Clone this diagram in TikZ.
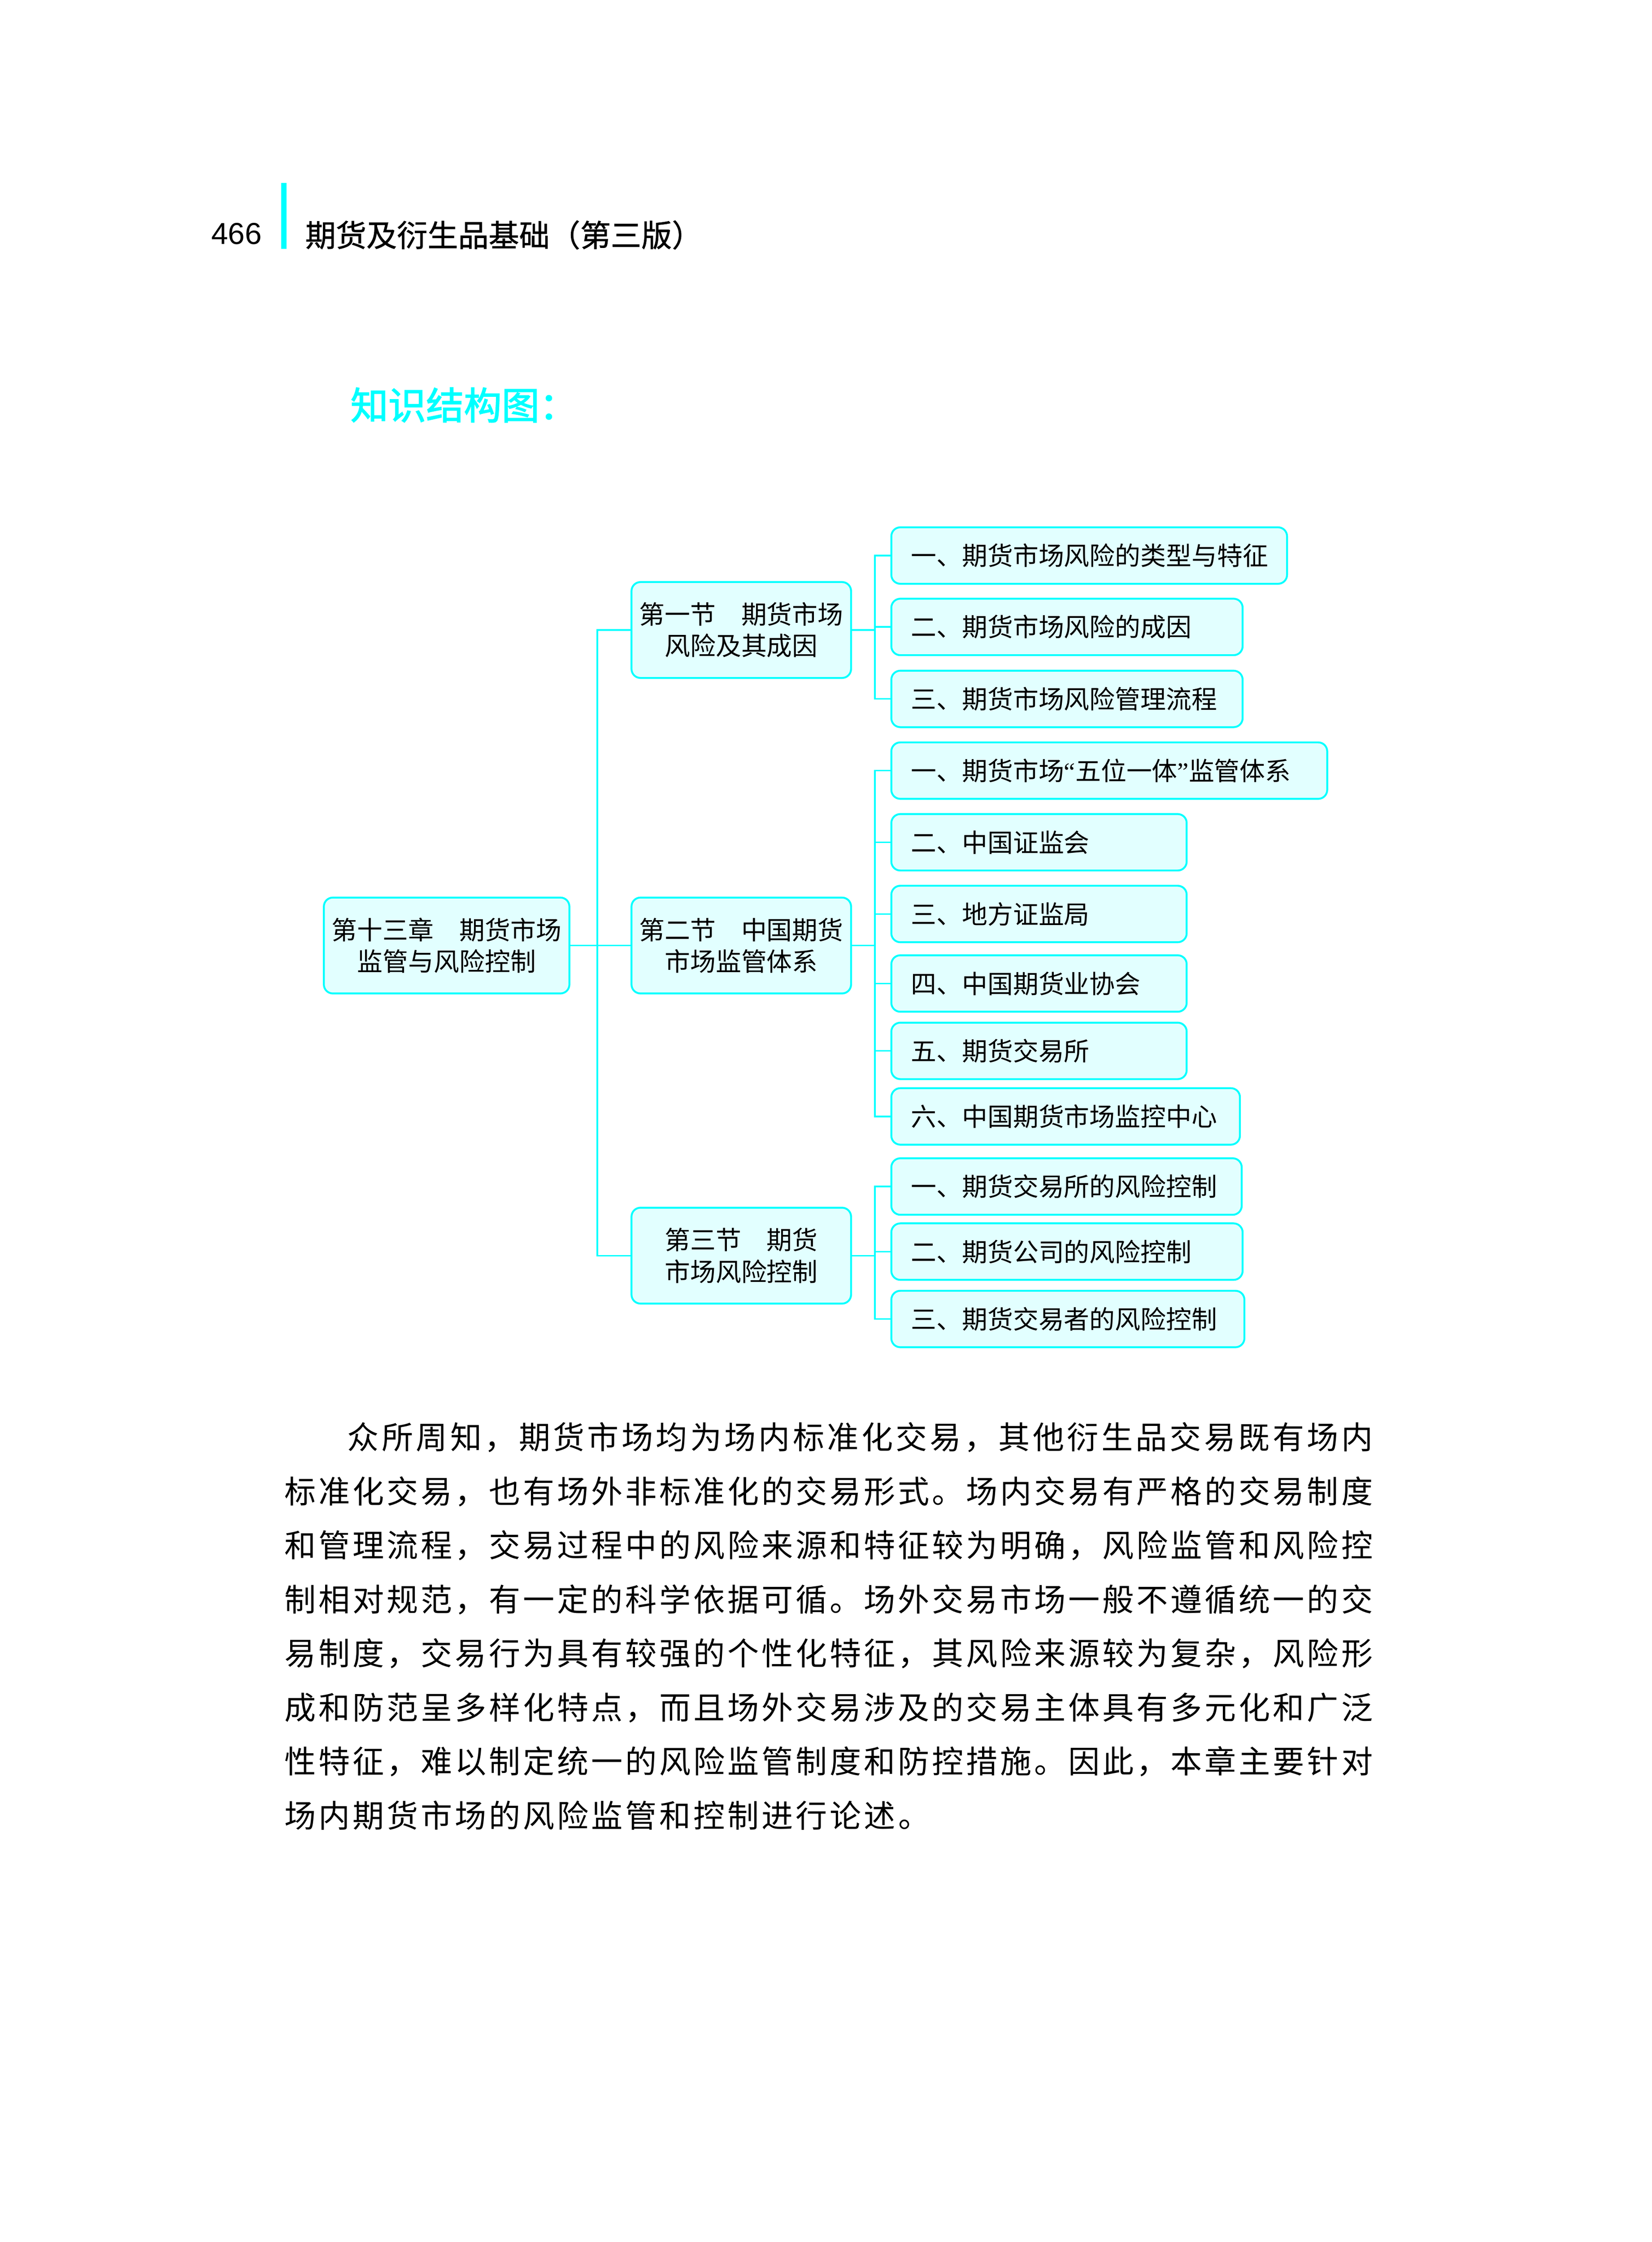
\documentclass[tikz,border=0pt]{standalone}
\usepackage{fontspec}
\newfontfamily\cjk{Noto Sans CJK SC}
\newfontfamily\cjkhead[FakeBold=1]{Noto Sans CJK SC}
\newfontfamily\cjkbold[FakeBold=2]{Noto Sans CJK SC}
\newfontfamily\arialfont{Liberation Sans}
\newfontfamily\quotefont{Liberation Serif}
\usetikzlibrary{positioning}
\definecolor{lineblue}{RGB}{0,255,255}
\definecolor{boxfill}{RGB}{226,255,255}
% stretchable glue between Chinese characters, used only in the body text
\newXeTeXintercharclass\hanclass
\newcount\hancode
\hancode="3000
\loop \XeTeXcharclass\hancode=\hanclass \advance\hancode 1 \ifnum\hancode<"A000 \repeat
\hancode="FF00
\loop \XeTeXcharclass\hancode=\hanclass \advance\hancode 1 \ifnum\hancode<"FFF0 \repeat
\XeTeXinterchartoks\hanclass\hanclass={\hskip0pt plus 3pt\relax}
\newcommand\cjkspread{\XeTeXinterchartokenstate=1\XeTeXlinebreaklocale "zh"\XeTeXlinebreakskip=0pt plus 2pt\relax}
\newcommand\bodyrow[2][121.44mm]{{\cjkspread\makebox[#1][s]{#2}}}
\tikzset{
  box/.style={draw=lineblue, fill=boxfill, line width=0.6pt, rounded corners=1mm,
    font=\cjk\fontsize{8.1}{10}\selectfont},
  topic/.style={box, align=center, minimum width=24.5mm, minimum height=10.7mm, inner sep=0pt},
  leaf/.style={box, anchor=west, align=left, text width=#1, inner xsep=2.2mm, minimum height=6.3mm},
  link/.style={draw=lineblue, line width=0.5pt},
  bodyline/.style={anchor=base west, inner sep=0pt, font=\cjk\fontsize{10}{17}\selectfont},
}

\begin{document}
\begin{tikzpicture}[x=0.16mm, y=-0.16mm]
\useasboundingbox (0,0) rectangle (1152,1563.8);
% page head
\node [anchor=base west, inner sep=0pt, font=\arialfont\fontsize{9.6}{11}\selectfont] (pagenum) at (147,170.4) {466};
\fill [lineblue] (196,127.7) rectangle (199.7,173.5);
\node [anchor=base west, inner sep=0pt, font=\cjkhead\fontsize{9.7}{11}\selectfont] (booktitle) at (212.5,172) {期货及衍生品基础（第三版）};
\node [anchor=base west, inner sep=0pt, text=lineblue, font=\cjkbold\fontsize{12}{14}\selectfont] (maptitle) at (244,292.5) {知识结构图：};
% chapter and sections
\node [topic, minimum width=27.4mm] (main) at (311.5,659.5) {第十三章　期货市场\\监管与风险控制};
\node [topic, right=6.72mm of main] (sec2) {第二节　中国期货\\市场监管体系};
\node [topic, above=24.3mm of sec2] (sec1) {第一节　期货市场\\风险及其成因};
\node [topic, below=23.7mm of sec2] (sec3) {第三节　期货\\市场风险控制};
% items
\node [leaf=39.76mm] (l1) at (621,387.5) {一、期货市场风险的类型与特征};
\node [leaf=34.8mm] (l2) at (621,437.3) {二、期货市场风险的成因};
\node [leaf=34.8mm] (l3) at (621,487.5) {三、期货市场风险管理流程};
\node [leaf=44.24mm] (l4) at (621,537.5) {一、期货市场{\quotefont“}五位一体{\quotefont”}监管体系};
\node [leaf=28.56mm] (l5) at (621,587.5) {二、中国证监会};
\node [leaf=28.56mm] (l6) at (621,637.5) {三、地方证监局};
\node [leaf=28.56mm] (l7) at (621,686) {四、中国期货业协会};
\node [leaf=28.56mm] (l8) at (621,733) {五、期货交易所};
\node [leaf=34.5mm] (l9) at (621,778.7) {六、中国期货市场监控中心};
\node [leaf=34.7mm] (l10) at (621,827.6) {一、期货交易所的风险控制};
\node [leaf=34.8mm] (l11) at (621,873) {二、期货公司的风险控制};
\node [leaf=35.0mm] (l12) at (621,920) {三、期货交易者的风险控制};
% connectors
\coordinate (trunk) at ([xshift=3mm]main.east);
\coordinate (fork1) at ([xshift=2.56mm]sec1.east);
\coordinate (fork2) at ([xshift=2.56mm]sec2.east);
\coordinate (fork3) at ([xshift=2.56mm]sec3.east);
\draw [link] (main.east) -- (sec2.west);
\draw [link] (sec1.west) -| (trunk) |- (sec3.west);
\draw [link] (sec1.east) -- (fork1);
\draw [link] (l1.west) -| (fork1) |- (l3.west);
\draw [link] (l2.west) -- (l2.west -| fork1);
\draw [link] (sec2.east) -- (fork2);
\draw [link] (l4.west) -| (fork2) |- (l9.west);
\draw [link] (l5.west) -- (l5.west -| fork2);
\draw [link] (l6.west) -- (l6.west -| fork2);
\draw [link] (l7.west) -- (l7.west -| fork2);
\draw [link] (l8.west) -- (l8.west -| fork2);
\draw [link] (sec3.east) -- (fork3);
\draw [link] (l10.west) -| (fork3) |- (l12.west);
\draw [link] (l11.west) -- (l11.west -| fork3);
% body text
\node [bodyline] (line1) at (198,1010.7) {\bodyrow{\hspace*{2em}众所周知，期货市场均为场内标准化交易，其他衍生品交易既有场内}};
\node [bodyline] (line2) at (198,1048.4) {\bodyrow{标准化交易，也有场外非标准化的交易形式。场内交易有严格的交易制度}};
\node [bodyline] (line3) at (198,1086.1) {\bodyrow{和管理流程，交易过程中的风险来源和特征较为明确，风险监管和风险控}};
\node [bodyline] (line4) at (198,1123.8) {\bodyrow{制相对规范，有一定的科学依据可循。场外交易市场一般不遵循统一的交}};
\node [bodyline] (line5) at (198,1161.5) {\bodyrow{易制度，交易行为具有较强的个性化特征，其风险来源较为复杂，风险形}};
\node [bodyline] (line6) at (198,1199.2) {\bodyrow{成和防范呈多样化特点，而且场外交易涉及的交易主体具有多元化和广泛}};
\node [bodyline] (line7) at (198,1236.9) {\bodyrow{性特征，难以制定统一的风险监管制度和防控措施。因此，本章主要针对}};
\node [bodyline] (line8) at (198,1274.6) {\bodyrow[72mm]{场内期货市场的风险监管和控制进行论述。}};
\end{tikzpicture}
\end{document}
